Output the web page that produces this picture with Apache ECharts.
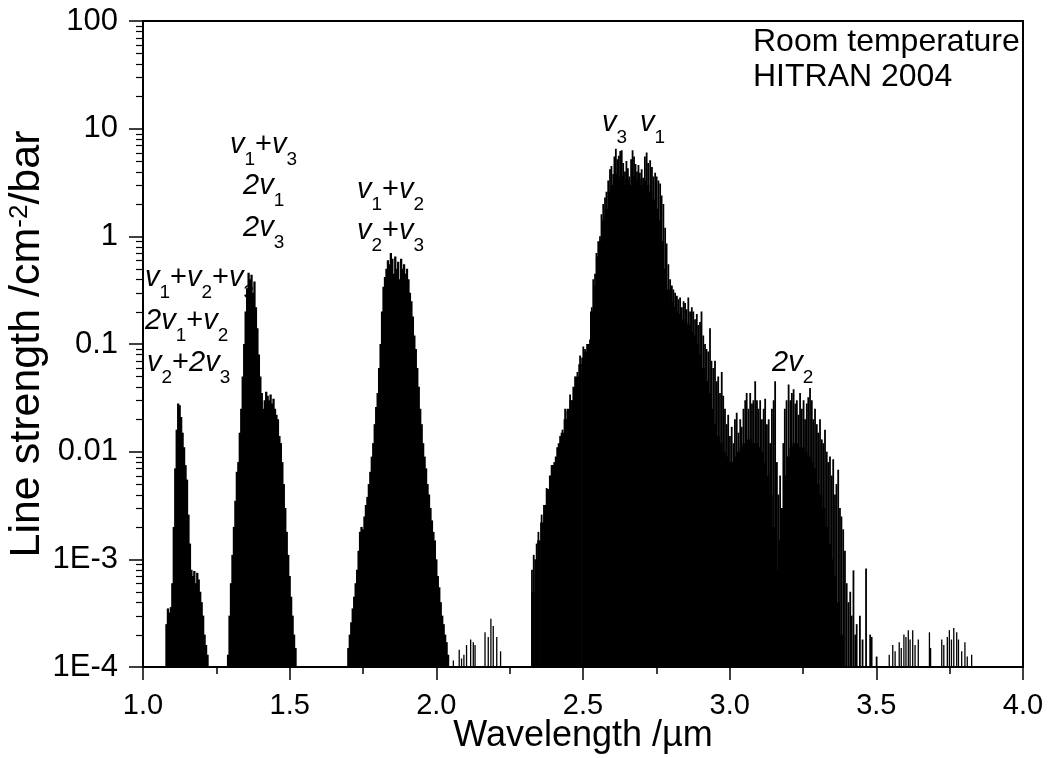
<!DOCTYPE html>
<html>
<head>
<meta charset="utf-8">
<script src="https://cdn.jsdelivr.net/npm/echarts@6/dist/echarts.min.js"></script>
<style>
html,body{margin:0;padding:0;background:#fff;}
#chart{width:1054px;height:758px;}
</style>
</head>
<body>
<div id="chart"></div>
<script>
// ---------------- DATA (wavelength in µm, line strength in cm^-2/bar) ----------------
const yTickLabels = ['1E-4', '1E-3', '0.01', '0.1', '1', '10', '100'];

// v1+v2+v3, 2v1+v2, v2+2v3 ~1.1 µm
const bandA = [
  [1.080,2.5e-4],[1.085,3.5e-4],[1.090,3.2e-4],[1.095,3.6e-4],[1.100,6e-4],[1.105,2e-3],
  [1.110,7e-3],[1.115,0.016],[1.120,0.028],[1.125,0.027],[1.130,0.021],[1.135,0.015],
  [1.140,0.011],[1.145,0.0075],[1.150,0.0055],[1.155,0.0026],[1.160,0.0014],[1.165,8e-4],
  [1.170,7e-4],[1.175,7.8e-4],[1.180,6e-4],[1.185,7.5e-4],[1.190,6.5e-4],[1.195,5e-4],
  [1.200,4e-4],[1.205,3e-4],[1.210,2e-4],[1.215,1.6e-4],[1.220,1.3e-4]
];

// v1+v3, 2v1, 2v3 ~1.4 µm
const bandB = [
  [1.290,1.3e-4],[1.295,3e-4],[1.300,6e-4],[1.305,1.1e-3],[1.310,2e-3],[1.315,3.5e-3],
  [1.320,6.5e-3],[1.325,8e-3],[1.330,0.015],[1.335,0.025],[1.340,0.05],[1.345,0.1],
  [1.350,0.2],[1.355,0.33],[1.360,0.46],[1.365,0.4],[1.370,0.44],[1.375,0.3],
  [1.380,0.38],[1.385,0.22],[1.390,0.14],[1.395,0.08],[1.400,0.05],[1.405,0.035],
  [1.410,0.025],[1.415,0.03],[1.420,0.036],[1.425,0.033],[1.430,0.03],[1.435,0.034],
  [1.440,0.028],[1.445,0.031],[1.450,0.025],[1.455,0.022],[1.460,0.02],[1.465,0.014],
  [1.470,0.012],[1.475,0.008],[1.480,0.005],[1.485,0.003],[1.490,0.0018],[1.495,1.1e-3],
  [1.500,7e-4],[1.505,4.5e-4],[1.510,3e-4],[1.515,2e-4],[1.520,1.5e-4]
];

// v1+v2, v2+v3 ~1.9 µm
const bandC = [
  [1.700,1.5e-4],[1.705,2e-4],[1.710,2.6e-4],[1.715,3.5e-4],[1.720,4.5e-4],[1.725,6e-4],
  [1.730,8e-4],[1.735,1.2e-3],[1.740,1.8e-3],[1.745,2e-3],[1.750,1.9e-3],[1.755,2.5e-3],
  [1.760,3.2e-3],[1.765,3.8e-3],[1.770,5e-3],[1.775,6.5e-3],[1.780,9e-3],[1.785,0.012],
  [1.790,0.018],[1.795,0.026],[1.800,0.035],[1.805,0.06],[1.810,0.1],[1.815,0.2],
  [1.820,0.34],[1.825,0.42],[1.830,0.5],[1.835,0.6],[1.840,0.55],[1.845,0.7],
  [1.850,0.62],[1.855,0.45],[1.860,0.65],[1.865,0.5],[1.870,0.58],[1.875,0.4],
  [1.880,0.62],[1.885,0.5],[1.890,0.55],[1.895,0.45],[1.900,0.5],[1.905,0.4],
  [1.910,0.3],[1.915,0.25],[1.920,0.18],[1.925,0.12],[1.930,0.09],[1.935,0.06],
  [1.940,0.04],[1.945,0.025],[1.950,0.018],[1.955,0.012],[1.960,9e-3],[1.965,7e-3],
  [1.970,5e-3],[1.975,4e-3],[1.980,3e-3],[1.985,2.3e-3],[1.990,1.8e-3],[1.995,1.5e-3],
  [2.000,1e-3],[2.005,7e-4],[2.010,5.5e-4],[2.015,4e-4],[2.020,3e-4],[2.025,2.5e-4],
  [2.030,2e-4],[2.035,1.7e-4],[2.040,1.3e-4]
];

// v1, v3 fundamentals and 2v2 ~2.3-3.4 µm : dense floor of the band
const bandDBase = [
  [2.33,5e-4],[2.34,1e-3],[2.35,1.5e-3],[2.36,2.2e-3],[2.37,3.2e-3],[2.38,4.5e-3],
  [2.39,6e-3],[2.40,7.5e-3],[2.41,9e-3],[2.42,0.012],[2.43,0.015],[2.44,0.02],
  [2.45,0.025],[2.46,0.03],[2.47,0.04],[2.48,0.05],[2.49,0.065],[2.50,0.075],
  [2.51,0.085],[2.52,0.1],[2.53,0.2],[2.54,0.35],[2.55,0.65],[2.56,0.9],
  [2.57,1.4],[2.58,1.8],[2.59,2.6],[2.60,3.0],[2.61,3.8],[2.62,3.3],
  [2.63,3.6],[2.64,3.0],[2.65,3.4],[2.66,3.0],[2.67,3.6],[2.68,3.2],
  [2.69,3.4],[2.70,3.0],[2.71,3.3],[2.72,3.0],[2.73,2.6],[2.74,2.2],
  [2.75,1.8],[2.76,1.4],[2.77,0.9],[2.78,0.5],[2.79,0.32],[2.80,0.25],
  [2.81,0.22],[2.82,0.2],[2.83,0.19],[2.84,0.17],[2.85,0.16],[2.86,0.15],
  [2.87,0.13],[2.88,0.12],[2.89,0.1],[2.90,0.08],[2.91,0.06],[2.92,0.045],
  [2.93,0.035],[2.94,0.025],[2.95,0.018],[2.96,0.014],[2.97,0.012],[2.98,0.01],
  [2.99,0.009],[3.00,0.008],[3.01,0.008],[3.02,0.009],[3.03,0.01],[3.04,0.011],
  [3.05,0.012],[3.06,0.013],[3.07,0.013],[3.08,0.012],[3.09,0.012],[3.10,0.011],
  [3.11,0.01],[3.12,0.008],[3.13,0.006],[3.14,0.004],[3.15,0.002],[3.16,0.0008],
  [3.17,0.0015],[3.18,0.003],[3.19,0.006],[3.20,0.009],[3.21,0.011],[3.22,0.012],
  [3.23,0.012],[3.24,0.011],[3.25,0.011],[3.26,0.01],[3.27,0.009],[3.28,0.008],
  [3.29,0.007],[3.30,0.005],[3.31,0.004],[3.32,0.003],[3.33,0.002],[3.34,0.0014],
  [3.35,0.001],[3.36,0.0007],[3.37,0.0004],[3.38,0.0002]
];

// strongest individual lines rising above the floor of the 2.3-3.5 µm band
const bandDPeaks = [
  [2.326,8e-4],[2.332,1.1e-3],[2.342,1.4e-3],[2.348,1.8e-3],[2.359,2.6e-3],[2.366,2.2e-3],
  [2.376,4.6e-3],[2.384,4e-3],[2.393,7.5e-3],[2.402,8e-3],[2.412,0.011],[2.422,0.014],
  [2.430,0.016],[2.439,0.025],[2.447,0.024],[2.456,0.034],[2.464,0.03],[2.473,0.05],
  [2.481,0.055],[2.490,0.078],[2.501,0.095],[2.507,0.09],[2.514,0.1],[2.524,0.11],
  [2.530,0.22],[2.535,0.4],[2.541,0.45],[2.546,0.7],[2.552,0.9],[2.558,1.0],
  [2.563,1.6],[2.569,2.0],[2.575,2.3],[2.580,2.6],[2.586,3.3],[2.592,4.2],
  [2.597,4.5],[2.603,3.8],[2.607,5.5],[2.612,6.5],[2.617,5.2],[2.622,5.6],
  [2.627,6.2],[2.632,6.3],[2.637,4.8],[2.643,4.0],[2.648,5.0],[2.653,4.3],
  [2.658,3.6],[2.664,5.2],[2.669,6.3],[2.674,5.5],[2.679,4.7],[2.684,4.0],
  [2.689,4.6],[2.694,3.9],[2.700,4.2],[2.705,3.5],[2.711,5.5],[2.717,6.0],
  [2.722,4.8],[2.729,5.1],[2.735,4.4],[2.740,3.6],[2.746,3.9],[2.751,3.6],
  [2.757,3.3],[2.763,3.1],[2.768,2.4],[2.774,2.0],[2.780,1.2],[2.785,0.86],
  [2.791,0.55],[2.797,0.4],[2.803,0.35],[2.808,0.32],[2.814,0.3],[2.820,0.28],
  [2.825,0.26],[2.831,0.27],[2.837,0.22],[2.843,0.25],[2.848,0.24],[2.853,0.21],
  [2.859,0.27],[2.865,0.2],[2.871,0.22],[2.876,0.2],[2.882,0.17],[2.888,0.19],
  [2.893,0.15],[2.899,0.16],[2.904,0.2],[2.910,0.12],[2.916,0.1],[2.921,0.09],
  [2.927,0.085],[2.933,0.14],[2.938,0.07],[2.944,0.06],[2.950,0.07],[2.956,0.045],
  [2.961,0.05],[2.967,0.035],[2.973,0.055],[2.978,0.033],[2.984,0.025],[2.990,0.018],
  [2.995,0.022],[3.001,0.014],[3.007,0.017],[3.013,0.012],[3.018,0.02],[3.024,0.023],
  [3.030,0.015],[3.036,0.02],[3.041,0.017],[3.047,0.025],[3.053,0.03],[3.058,0.035],
  [3.064,0.025],[3.070,0.035],[3.076,0.028],[3.081,0.03],[3.087,0.045],[3.093,0.03],
  [3.098,0.025],[3.104,0.03],[3.110,0.02],[3.116,0.025],[3.121,0.031],[3.127,0.018],
  [3.133,0.02],[3.138,0.012],[3.144,0.025],[3.150,0.03],[3.155,0.045],[3.161,0.008],
  [3.166,0.004],[3.172,0.006],[3.177,0.0022],[3.183,0.012],[3.188,0.025],[3.194,0.03],
  [3.201,0.042],[3.207,0.03],[3.212,0.035],[3.218,0.038],[3.224,0.028],[3.229,0.03],
  [3.235,0.022],[3.240,0.035],[3.246,0.025],[3.252,0.03],[3.257,0.02],[3.263,0.028],
  [3.268,0.032],[3.274,0.039],[3.280,0.03],[3.285,0.02],[3.291,0.025],[3.297,0.018],
  [3.302,0.015],[3.308,0.02],[3.314,0.013],[3.319,0.012],[3.325,0.016],[3.331,0.01],
  [3.336,0.008],[3.342,0.009],[3.348,0.006],[3.353,0.0085],[3.359,0.004],[3.364,0.005],
  [3.370,0.0068],[3.376,0.003],[3.381,0.0025],[3.387,0.0019],[3.393,0.0012],[3.399,0.0006],
  [3.405,0.0004],[3.411,0.0005],[3.416,0.0003],[3.422,0.00079],[3.428,0.0002],[3.433,0.00025],
  [3.444,0.0003],[3.453,0.00018],[3.465,0.00082],[3.479,0.0002],[3.484,0.00019],[3.501,0.000125]
];

// isolated weak lines
const weakLines = [
  [2.058,1.15e-4],[2.078,1.45e-4],[2.086,1.2e-4],[2.094,1.3e-4],[2.103,1.6e-4],[2.117,1.8e-4],
  [2.126,1.7e-4],[2.132,1.6e-4],[2.166,2.1e-4],[2.177,1.9e-4],[2.186,2.8e-4],[2.194,2.4e-4],
  [2.206,1.9e-4],[2.219,1.4e-4],
  [3.544,1.3e-4],[3.556,1.6e-4],[3.564,1.4e-4],[3.578,1.7e-4],[3.585,1.5e-4],[3.594,2e-4],
  [3.601,1.9e-4],[3.609,2.2e-4],[3.615,1.8e-4],[3.624,2.2e-4],[3.632,1.6e-4],[3.643,1.8e-4],
  [3.681,2.1e-4],[3.685,1.5e-4],[3.723,1.8e-4],[3.730,1.6e-4],[3.742,1.9e-4],[3.749,2.2e-4],
  [3.756,1.8e-4],[3.764,2.3e-4],[3.774,2.1e-4],[3.780,1.8e-4],[3.791,1.4e-4],[3.802,1.7e-4],
  [3.810,1.25e-4],[3.825,1.3e-4]
];

// ---------------- CHART ----------------
const Y_MIN = 1e-4, Y_MAX = 100, X_MIN = 1, X_MAX = 4;
const FONT = '"Liberation Sans", Arial, Helvetica, sans-serif';

function stickSeries(name, data, width) {
  return {
    type: 'custom', name: name, data: data, clip: true, silent: true,
    encode: { x: 0, y: 1 },
    renderItem: function (params, api) {
      const lam = api.value(0);
      const top = api.coord([lam, api.value(1)]);
      const bot = api.coord([lam, Y_MIN]);
      return {
        type: 'line',
        shape: { x1: top[0], y1: bot[1], x2: top[0], y2: top[1] },
        style: { stroke: '#000', lineWidth: width }
      };
    }
  };
}

// log minor ticks (2..9 per decade) for the y axis
const yMinor = [];
for (let e = Math.log10(Y_MIN); e < Math.log10(Y_MAX); e++) {
  for (let m = 2; m <= 9; m++) yMinor.push([X_MIN, m * Math.pow(10, e)]);
}
const yMinorSeries = {
  type: 'custom', name: 'yMinor', data: yMinor, clip: false, silent: true,
  encode: { x: 0, y: 1 },
  renderItem: function (params, api) {
    const p = api.coord([api.value(0), api.value(1)]);
    const y = Math.round(p[1]) + 0.5;
    return { type: 'line', shape: { x1: p[0] - 7, y1: y, x2: p[0], y2: y },
             style: { stroke: '#000', lineWidth: 1.2 } };
  }
};

const annRich = {
  v: { fontFamily: FONT, fontSize: 29, fontStyle: 'italic', height: 30, verticalAlign: 'top', fill: '#000' },
  i: { fontFamily: FONT, fontSize: 29, fontStyle: 'italic', height: 30, verticalAlign: 'top', fill: '#000' },
  n: { fontFamily: FONT, fontSize: 29, height: 30, verticalAlign: 'top', fill: '#000' },
  s: { fontFamily: FONT, fontSize: 19, height: 60, verticalAlign: 'top', fill: '#000' }
};
function ann(text, x, y) {
  return { type: 'text', x: x, y: y, silent: true,
           style: { text: text, rich: annRich, align: 'left', verticalAlign: 'top' } };
}
function plain(text, x, y) {
  return { type: 'text', x: x, y: y, silent: true,
           style: { text: text, fontFamily: FONT, fontSize: 32, fill: '#000', align: 'left', verticalAlign: 'middle' } };
}

const chart = echarts.init(document.getElementById('chart'), null, { renderer: 'canvas' });
chart.setOption({
  backgroundColor: '#fff',
  animation: false,
  grid: { left: 143, right: 31, top: 21, bottom: 91, containLabel: false, outerBoundsMode: 'none',
          show: true, borderColor: '#000', borderWidth: 2, backgroundColor: 'transparent' },
  xAxis: {
    type: 'value', min: X_MIN, max: X_MAX, interval: 0.5,
    axisLine: { show: true, onZero: false, lineStyle: { color: '#000', width: 2 } },
    axisTick: { show: true, inside: false, length: 13, lineStyle: { color: '#000', width: 1.5 } },
    minorTick: { show: true, splitNumber: 2, length: 7, lineStyle: { color: '#000', width: 1.5 } },
    splitLine: { show: false }, minorSplitLine: { show: false },
    axisLabel: { color: '#000', fontFamily: FONT, fontSize: 29, margin: 24,
                 formatter: function (v) { return v.toFixed(1); } },
    name: 'Wavelength /µm', nameLocation: 'middle', nameGap: 51, nameMoveOverlap: false,
    nameTextStyle: { color: '#000', fontFamily: FONT, fontSize: 36 }
  },
  yAxis: {
    type: 'log', logBase: 10, min: Y_MIN, max: Y_MAX,
    axisLine: { show: true, lineStyle: { color: '#000', width: 2 } },
    axisTick: { show: true, inside: false, length: 14, lineStyle: { color: '#000', width: 1.5 } },
    splitLine: { show: false },
    axisLabel: { color: '#000', fontFamily: FONT, fontSize: 31, margin: 25,
                 formatter: function (v) { return yTickLabels[Math.round(Math.log10(v) - Math.log10(Y_MIN))]; } },
    name: '{a|Line strength /cm}{p|-2}{a|/bar}', nameLocation: 'middle', nameGap: 94, nameMoveOverlap: false,
    nameTextStyle: {
      color: '#000', fontFamily: FONT, fontSize: 43,
      rich: {
        a: { color: '#000', fontFamily: FONT, fontSize: 43, height: 43, lineHeight: 48, verticalAlign: 'bottom' },
        p: { color: '#000', fontFamily: FONT, fontSize: 26, height: 38, verticalAlign: 'top' }
      }
    }
  },
  series: [
    stickSeries('bandA', bandA, 2.3),
    stickSeries('bandB', bandB, 2.3),
    stickSeries('bandC', bandC, 2.3),
    stickSeries('bandDBase', bandDBase, 3.6),
    stickSeries('bandDPeaks', bandDPeaks, 1.8),
    stickSeries('weakLines', weakLines, 1.3),
    yMinorSeries
  ],
  graphic: [
    plain('Room temperature', 753, 42),
    plain('HITRAN 2004', 753, 77),
    ann('{v|v}{s|1}{n|+}{v|v}{s|3}', 230, 130),
    ann('{i|2}{v|v}{s|1}', 243, 171),
    ann('{i|2}{v|v}{s|3}', 243, 213),
    ann('{v|v}{s|1}{n|+}{v|v}{s|2}{n|+}{v|v}{s|3}', 145, 263),
    ann('{i|2}{v|v}{s|1}{n|+}{v|v}{s|2}', 145, 306),
    ann('{v|v}{s|2}{n|+}{i|2}{v|v}{s|3}', 147, 348),
    ann('{v|v}{s|1}{n|+}{v|v}{s|2}', 357, 175),
    ann('{v|v}{s|2}{n|+}{v|v}{s|3}', 357, 216),
    ann('{v|v}{s|3}', 602, 108),
    ann('{v|v}{s|1}', 640, 108),
    ann('{i|2}{v|v}{s|2}', 772, 348)
  ]
});
</script>
</body>
</html>
